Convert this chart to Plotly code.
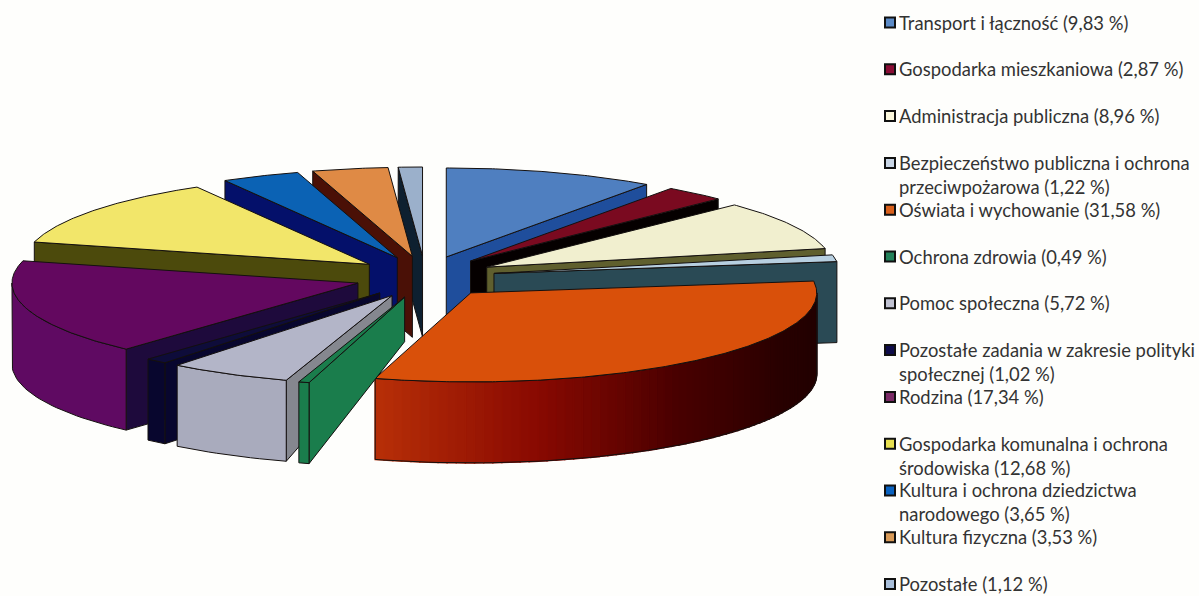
import numpy as np
import plotly.graph_objects as go

labels = [
    "Transport i łączność (9,83 %)",
    "Gospodarka mieszkaniowa (2,87 %)",
    "Administracja publiczna (8,96 %)",
    "Bezpieczeństwo publiczna i ochrona<br>przeciwpożarowa (1,22 %)",
    "Oświata i wychowanie (31,58 %)",
    "Ochrona zdrowia (0,49 %)",
    "Pomoc społeczna (5,72 %)",
    "Pozostałe zadania w zakresie polityki<br>społecznej (1,02 %)",
    "Rodzina (17,34 %)",
    "Gospodarka komunalna i ochrona<br>środowiska (12,68 %)",
    "Kultura i ochrona dziedzictwa<br>narodowego (3,65 %)",
    "Kultura fizyczna (3,53 %)",
    "Pozostałe (1,12 %)",
]
values = [9.83, 2.87, 8.96, 1.22, 31.58, 0.49, 5.72, 1.02, 17.34, 12.68, 3.65, 3.53, 1.12]
top_colors = ["#4f7fc0", "#7a0a20", "#f1efcf", "#b7cfe0", "#d9500a", "#1a7d4c", "#b3b5c8",
              "#0e0c3a", "#63085f", "#f2e66a", "#0b62b4", "#df8a45", "#9bb0cb"]
cut_colors = ["#1f4e9c", "#050000", "#5f5f2e", "#2a4a55", "#b83008", "#1a7d4c", "#85878f",
              "#08062e", "#1e0a3c", "#4c4a0c", "#04106a", "#4a1006", "#0e2030"]
wall_colors = [["#1f4e9c"], ["#050000"], ["#5f5f2e"], ["#2a4a55"],
               ["#200000", "#280000", "#480000", "#8a0a02", "#b83008"],
               ["#1a7d4c"], ["#a9abbd"], ["#08062e"], ["#5f0a62"], ["#4c4a0c"],
               ["#04106a"], ["#4a1006"], ["#0e2030"]]
legend_colors = ["#5b8ac6", "#8a0d35", "#fbf7dc", "#c9d6e6", "#d9601c", "#23815a", "#c0c2d2",
                 "#0e0c4a", "#7a2a66", "#e8e050", "#0a62c0", "#d89a58", "#a9bfdb"]
inner_height = [1, 1, 1, 1, 1, 0.55, 0.55, 1, 1, 1, 1, 1, 1]

CX, CY, R, RY, H = 425.0, 277.0, 346.0, 89.0, 81.0
PULL_X, PULL_Y = 70.0, 21.0
EDGE = "#14100f"
ROW0, ROW_PITCH, LINE = 22.5, 46.8, 23.9
MARK_X, TEXT_X = 890.0, 899.0


def hex_rgb(c):
    return np.array([int(c[i:i + 2], 16) for i in (1, 3, 5)], float)


def mix(stops, t):
    if len(stops) == 1:
        return stops[0]
    p = t * (len(stops) - 1)
    i = min(int(p), len(stops) - 2)
    c = hex_rgb(stops[i]) * (1 - (p - i)) + hex_rgb(stops[i + 1]) * (p - i)
    return "rgb(%d,%d,%d)" % tuple(c)


fig = go.Figure()


def poly(xs, ys, fill, line=EDGE, width=1):
    fig.add_trace(go.Scatter(x=list(xs) + [xs[0]], y=list(ys) + [ys[0]], mode="lines", fill="toself",
                             fillcolor=fill, line=dict(color=line, width=width),
                             hoverinfo="skip", showlegend=False))


shares = np.array(values) / sum(values) * 360
ends = np.cumsum(shares)
starts = ends - shares
mids = (starts + ends) / 2
order = np.argsort(-np.cos(np.radians(mids)))

for i in order:
    a0, a1, m = starts[i], ends[i], np.radians(mids[i])
    ax, ay = CX + PULL_X * np.sin(m), CY - PULL_Y * np.cos(m)

    def rim(d):
        r = np.radians(d)
        return ax + R * np.sin(r), ay - RY * np.cos(r)

    for a, normal in ((a0, a0 - 90), (a1, a1 + 90)):
        if np.cos(np.radians(normal)) < -1e-6:
            px, py = rim(a)
            poly([ax, px, px, ax], [ay, py, py + H, ay + H * inner_height[i]], cut_colors[i])

    w0, w1 = max(a0, 90.0), min(a1, 270.0)
    if w1 > w0:
        n = max(2, int((w1 - w0) / 1.5))
        angs = np.linspace(w0, w1, n + 1)
        ox, oy = rim(angs)
        if len(wall_colors[i]) == 1:
            poly(np.r_[ox, ox[::-1]], np.r_[oy, oy[::-1] + H], wall_colors[i][0])
        else:
            for j in range(n):
                col = mix(wall_colors[i], (j + 0.5) / n)
                poly([ox[j], ox[j + 1], ox[j + 1], ox[j]], [oy[j], oy[j + 1], oy[j + 1] + H, oy[j] + H],
                     col, line=col, width=1.5)
            fig.add_trace(go.Scatter(x=np.r_[ox, ox[::-1], ox[0]], y=np.r_[oy + H, oy[::-1], oy[0] + H],
                                     mode="lines", line=dict(color=EDGE, width=1),
                                     hoverinfo="skip", showlegend=False))

    arc = np.linspace(a0, a1, max(3, int(shares[i] * 2)))
    tx, ty = rim(arc)
    poly(np.r_[ax, tx], np.r_[ay, ty], top_colors[i])

annotations = []
for k, (name, col) in enumerate(zip(labels, legend_colors)):
    row = ROW0 + ROW_PITCH * k
    fig.add_trace(go.Scatter(x=[MARK_X], y=[row], mode="markers", name=name.replace("<br>", " "),
                             showlegend=False, hoverinfo="name",
                             marker=dict(symbol="square", size=10, color=col,
                                         line=dict(color="#111111", width=2))))
    lines = name.count("<br>") + 1
    annotations.append(dict(x=TEXT_X, y=row + (lines - 1) * LINE / 2, xref="x", yref="y", text=name,
                            showarrow=False, xanchor="left", yanchor="middle", align="left",
                            borderpad=0, borderwidth=0))

fig.update_layout(
    width=1199, height=596, margin=dict(l=0, r=0, t=0, b=0),
    paper_bgcolor="#fefefc", plot_bgcolor="#fefefc",
    xaxis=dict(range=[0, 1199], visible=False, fixedrange=True),
    yaxis=dict(range=[596, 0], visible=False, fixedrange=True),
    font=dict(family="Lato", size=18.4, color="#333333"),
    showlegend=False,
    annotations=annotations,
)
fig.write_html("out.html", config=dict(displayModeBar=False),
               post_script="document.body.style.margin='0';")
